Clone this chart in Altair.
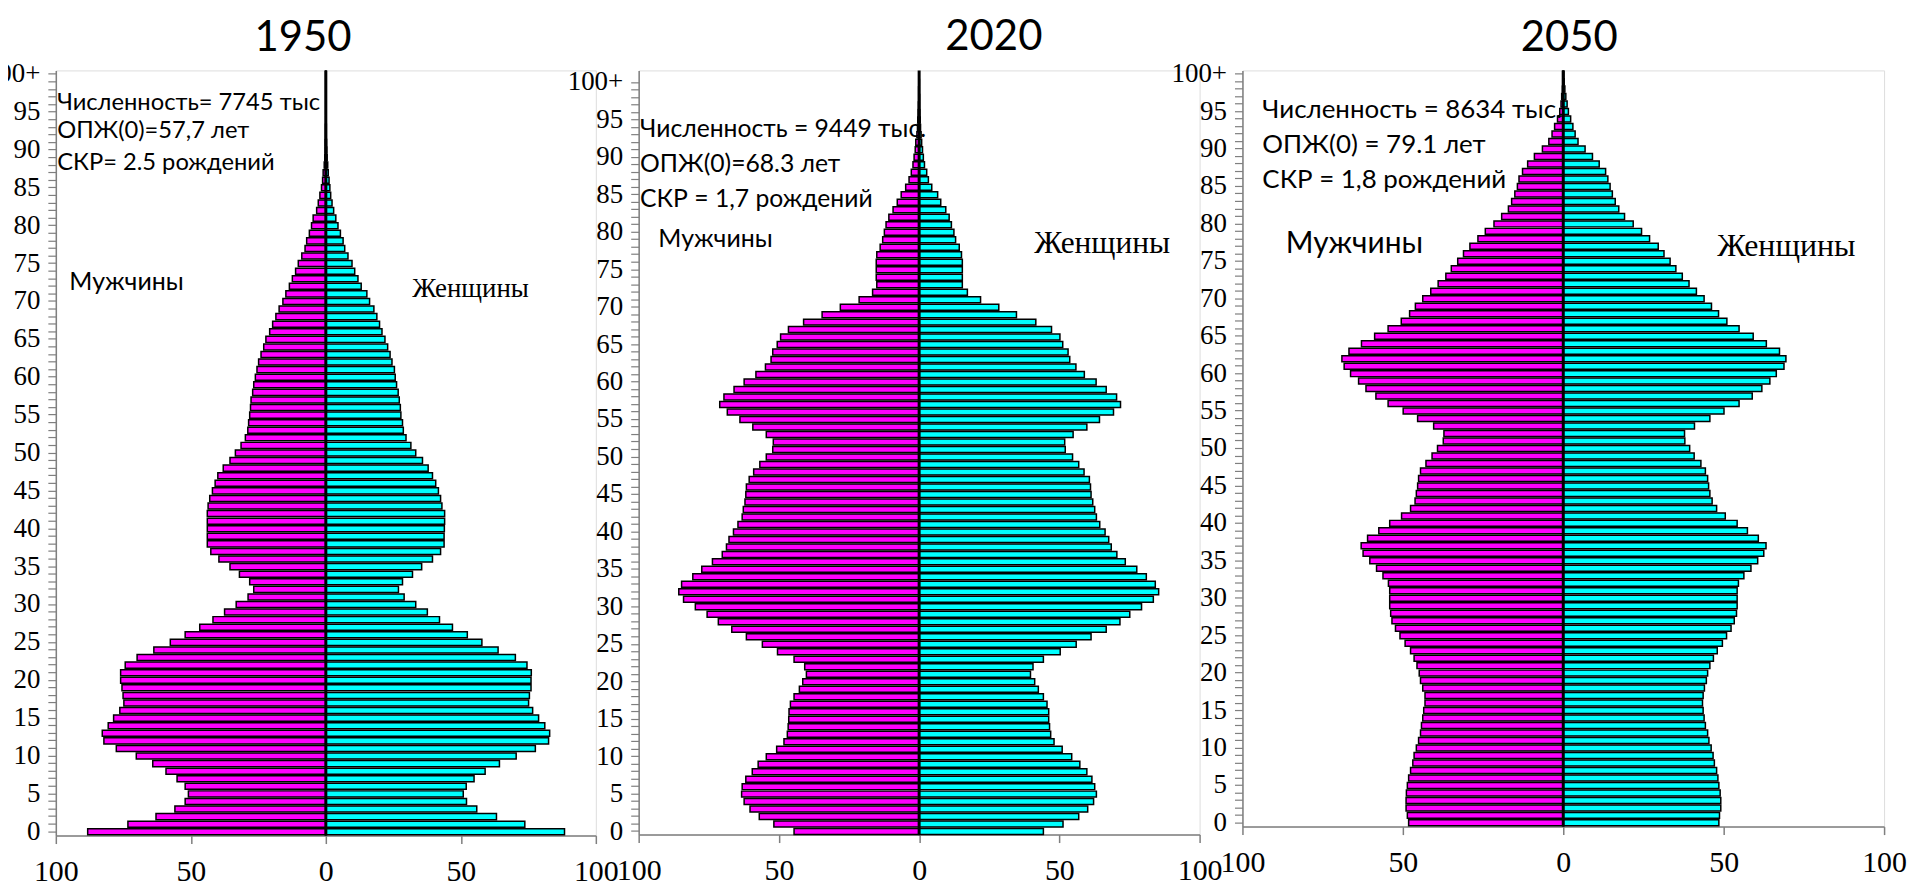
import altair as alt
import pandas as pd

ages = list(range(101))

men_1950 = [88.2, 73.3, 62.9, 55.9, 52.1, 50.9, 52.1, 55.1, 59.2, 64.1,
            70.2, 77.6, 82.2, 82.8, 80.6, 78.6, 76.3, 74.8, 75.1, 75.5,
            76.0, 76.0, 74.3, 69.9, 63.7, 57.6, 52.1, 46.7, 41.8, 37.5,
            33.2, 28.8, 26.7, 28.2, 32.0, 35.5, 39.6, 42.6, 43.9, 43.9,
            43.9, 43.9, 43.9, 43.6, 43.0, 42.0, 41.0, 40.0, 38.0, 35.5,
            33.5, 31.4, 29.8, 28.9, 28.6, 28.2, 27.9, 27.7, 27.1, 26.7,
            26.1, 25.5, 24.9, 24.0, 23.0, 22.2, 20.8, 19.7, 18.5, 17.3,
            15.9, 14.8, 13.5, 12.4, 11.2, 10.2, 8.9, 7.7, 7.1, 6.1,
            5.3, 4.7, 3.4, 2.8, 2.2, 1.6, 1.2, 1.0, 0.6, 0.4,
            0.3, 0.3, 0.2, 0.2, 0.1, 0.1, 0.1, 0.1, 0.1, 0.1, 0.1]
women_1950 = [88.4, 73.7, 63.2, 55.9, 52.1, 50.9, 52.0, 54.9, 59.0, 64.3,
              70.5, 77.6, 82.5, 82.9, 81.1, 78.8, 76.6, 75.1, 75.4, 76.0,
              76.0, 76.1, 74.5, 70.2, 63.8, 57.8, 52.4, 46.9, 42.1, 37.6,
              33.3, 29.0, 26.9, 28.4, 32.1, 35.5, 39.5, 42.5, 43.8, 43.8,
              43.9, 44.0, 44.0, 43.0, 42.5, 41.7, 40.7, 39.5, 37.9, 35.8,
              33.3, 31.5, 29.7, 28.7, 28.4, 27.8, 27.6, 27.2, 26.8, 26.2,
              25.7, 25.4, 24.5, 23.8, 22.9, 21.9, 20.8, 19.9, 18.9, 17.8,
              16.2, 15.2, 13.1, 11.9, 10.7, 9.7, 8.2, 7.0, 6.4, 5.4,
              4.5, 3.7, 2.9, 2.3, 1.8, 1.5, 1.2, 0.9, 0.7, 0.5,
              0.4, 0.3, 0.2, 0.2, 0.1, 0.1, 0.1, 0.1, 0.1, 0.1, 0.1]

men_2020 = [44.6, 51.8, 57.0, 60.3, 62.4, 63.3, 63.1, 61.8, 59.5, 57.4,
            54.5, 50.8, 48.2, 47.0, 46.7, 46.5, 46.4, 45.9, 44.6, 42.7,
            41.5, 40.2, 40.8, 44.6, 50.5, 55.9, 61.6, 66.8, 71.6, 75.6,
            79.8, 84.0, 85.7, 84.7, 80.7, 77.5, 73.7, 70.2, 68.7, 67.8,
            66.2, 64.6, 63.1, 62.7, 62.1, 61.8, 61.6, 60.6, 59.0, 56.8,
            54.5, 52.2, 52.0, 54.5, 59.3, 63.9, 68.4, 71.1, 69.6, 66.0,
            62.4, 58.2, 54.8, 52.8, 52.2, 50.6, 49.4, 46.6, 41.2, 34.6,
            28.1, 21.4, 16.6, 15.1, 15.3, 15.3, 15.3, 15.1, 13.9, 13.0,
            12.4, 11.8, 10.8, 9.3, 7.8, 6.4, 4.8, 3.6, 2.8, 2.2,
            1.8, 1.4, 1.2, 0.8, 0.6, 0.5, 0.4, 0.3, 0.2, 0.2, 0.1]
women_2020 = [44.3, 51.3, 56.9, 60.1, 62.2, 63.2, 62.6, 61.6, 59.8, 57.3,
              54.4, 51.0, 48.1, 46.9, 46.5, 46.2, 46.2, 45.6, 44.3, 42.5,
              41.2, 39.7, 40.6, 44.3, 50.3, 56.0, 61.3, 66.7, 71.6, 75.1,
              79.3, 83.5, 85.4, 84.2, 81.0, 77.6, 73.5, 70.5, 68.5, 67.6,
              66.3, 64.4, 63.2, 62.6, 61.9, 61.3, 61.1, 60.7, 58.8, 56.9,
              54.7, 52.1, 51.9, 54.9, 59.8, 64.3, 69.3, 71.8, 70.4, 66.7,
              63.1, 58.9, 55.9, 53.7, 53.1, 51.2, 50.2, 47.2, 41.6, 34.7,
              28.4, 21.9, 17.2, 15.4, 15.4, 15.4, 15.4, 15.1, 14.3, 13.0,
              12.4, 11.5, 10.7, 9.5, 7.7, 6.6, 4.5, 3.3, 2.7, 1.9,
              1.5, 1.2, 0.9, 0.7, 0.5, 0.4, 0.3, 0.2, 0.2, 0.1, 0.1]

men_2050 = [48.2, 48.6, 49.0, 49.0, 48.9, 48.6, 48.2, 47.6, 46.9, 46.5,
            45.8, 45.1, 44.5, 44.2, 43.8, 43.5, 43.1, 43.1, 43.8, 44.5,
            44.9, 45.6, 46.5, 47.6, 49.3, 50.9, 52.3, 53.4, 53.8, 54.1,
            54.1, 54.1, 54.5, 56.2, 58.2, 60.3, 62.4, 63.0, 61.0, 57.5,
            54.1, 50.4, 47.6, 46.2, 45.8, 45.4, 45.1, 44.5, 42.8, 40.9,
            39.2, 37.4, 37.2, 40.4, 45.4, 49.9, 54.6, 58.4, 61.5, 63.8,
            66.3, 68.3, 69.0, 66.8, 62.9, 58.8, 54.6, 50.5, 47.9, 46.1,
            43.8, 41.3, 39.0, 36.6, 34.9, 32.9, 31.1, 29.1, 26.6, 24.3,
            21.6, 19.2, 17.1, 16.1, 15.1, 14.3, 13.8, 12.7, 11.1, 9.0,
            6.5, 4.5, 3.5, 2.7, 1.8, 1.1, 0.7, 0.5, 0.3, 0.2, 0.2]
women_2050 = [48.5, 48.7, 49.1, 49.1, 48.9, 48.5, 48.2, 47.8, 47.1, 46.7,
              46.1, 45.4, 45.0, 44.3, 43.9, 43.6, 43.4, 43.6, 44.0, 44.6,
              45.0, 45.7, 46.8, 48.0, 49.6, 50.9, 52.3, 53.3, 54.0, 54.2,
              54.2, 54.2, 54.6, 56.3, 58.5, 60.6, 62.5, 63.2, 60.8, 57.4,
              54.2, 50.5, 47.8, 46.4, 45.7, 45.3, 45.0, 44.3, 42.9, 40.8,
              39.4, 37.9, 37.8, 40.9, 45.7, 50.1, 54.8, 58.9, 61.9, 64.4,
              66.4, 68.8, 69.4, 67.4, 63.3, 59.2, 54.8, 51.0, 48.4, 46.2,
              43.9, 41.5, 39.2, 37.1, 35.1, 33.3, 31.4, 29.6, 26.9, 24.4,
              21.8, 19.1, 17.3, 16.2, 15.3, 14.6, 13.9, 13.2, 11.2, 9.1,
              6.8, 4.6, 3.7, 3.0, 2.3, 1.6, 1.2, 0.8, 0.5, 0.3, 0.2]

titles = ["1950", "2020", "2050"]
info_1950 = ["Численность= 7745 тыс", "ОПЖ(0)=57,7 лет", "СКР= 2.5 рождений"]
info_2020 = ["Численность = 9449 тыс.", "ОПЖ(0)=68.3 лет", "СКР = 1,7 рождений"]
info_2050 = ["Численность = 8634 тыс.", "ОПЖ(0) = 79.1 лет", "СКР = 1,8 рождений"]
sex_labels = ["Мужчины", "Женщины"]

SANS = "Lato"
SERIF = "Liberation Serif"


def make_df(men, women):
    rows = []
    for a, m, w in zip(ages, men, women):
        rows.append({"age": a, "sex": sex_labels[0], "value": -m})
        rows.append({"age": a, "sex": sex_labels[1], "value": w})
    return pd.DataFrame(rows)


one = alt.Data(values=[{}])


def label(text, x, age, font, size, dy=0, align="left"):
    return alt.Chart(one).mark_text(
        align=align, baseline="middle", font=font, fontSize=size, dy=dy, color="black"
    ).encode(
        x=alt.XDatum(x, type="quantitative"),
        y=alt.YDatum(age, type="ordinal"),
        text=alt.value(text),
    )


def panel(men, women, title, width, height, title_dx, texts, pad_outer=0.1, align=0.5,
          title_dy=0):
    df = make_df(men, women)
    xs = alt.Scale(domain=[-100, 100], nice=False, zero=False)
    ys = alt.Scale(domain=ages[::-1], paddingInner=0.2, paddingOuter=pad_outer, align=align)
    bars = alt.Chart(df).mark_bar(stroke="black", strokeWidth=1.5).encode(
        x=alt.X("value:Q", scale=xs, title=None,
                axis=alt.Axis(values=[-100, -50, 0, 50, 100], labelExpr="abs(datum.value)",
                              grid=False, tickSize=8, tickColor="#7f7f7f", domainColor="#7f7f7f",
                              domainWidth=1.5, tickWidth=1.5, labelFlush=False,
                              labelFont=SERIF, labelFontSize=30, labelColor="black",
                              labelPadding=13)),
        y=alt.Y("age:O", scale=ys, title=None,
                axis=alt.Axis(labelExpr="datum.value % 5 == 0 ? (datum.value == 100 ? '100+' : datum.value) : ''",
                              grid=False, tickSize=8, tickColor="#7f7f7f", domainColor="#7f7f7f",
                              domainWidth=1.5, tickWidth=1.2, labelOverlap=False,
                              labelFont=SERIF, labelFontSize=27, labelColor="black",
                              labelPadding=8)),
        color=alt.Color("sex:N", scale=alt.Scale(domain=sex_labels, range=["#FF00FF", "#00FFFF"]),
                        legend=None),
    )
    zero = alt.Chart(one).mark_rule(color="black", strokeWidth=3).encode(
        x=alt.XDatum(0, type="quantitative"))
    layers = [bars, zero] + [label(*t) for t in texts]
    return alt.layer(*layers).properties(
        width=width, height=height,
        title=alt.TitleParams(title, font=SANS, fontSize=42, fontWeight="normal",
                              color="black", dx=title_dx, dy=title_dy, offset=0),
    )


p1 = panel(men_1950, women_1950, titles[0], 542, 768, -23, [
    (info_1950[0], -99.5, 97, SANS, 23.8, 6),
    (info_1950[1], -99.5, 92, SANS, 23.8, -4),
    (info_1950[2], -99.5, 88, SANS, 23.8, -2),
    (sex_labels[0], -95, 73, SANS, 25, 3),
    (sex_labels[1], 32, 72, SERIF, 27, 3),
])
p2 = panel(men_2020, women_2020, titles[1], 563, 767, 75, [
    (info_2020[0], -99.5, 93, SANS, 24.8, -5),
    (info_2020[1], -99.5, 88, SANS, 24.8, -7),
    (info_2020[2], -99.5, 84, SANS, 24.8, -2.5),
    (sex_labels[0], -93, 78, SANS, 25, -8.5),
    (sex_labels[1], 41, 78, SERIF, 31.5, -3),
], pad_outer=0.6, align=1, title_dy=-9)
p3 = panel(men_2050, women_2050, titles[2], 644, 759, 6, [
    (info_2050[0], -93.8, 96, SANS, 26, 5.5),
    (info_2050[1], -93.8, 91, SANS, 26, 3.5),
    (info_2050[2], -93.8, 87, SANS, 26, 9),
    (sex_labels[0], -86.5, 77, SANS, 30, -2),
    (sex_labels[1], 48, 77, SERIF, 32, 0),
])

chart = alt.hconcat(p1, p2, p3, spacing=43, bounds="flush").properties(
    padding={"left": -25, "top": 6, "right": 0, "bottom": 0}
).configure_view(stroke=None).configure(background="white").configure_axis(
    labelFont=SERIF
)

chart.save("out.html", embed_options={"renderer": "svg", "actions": False})
